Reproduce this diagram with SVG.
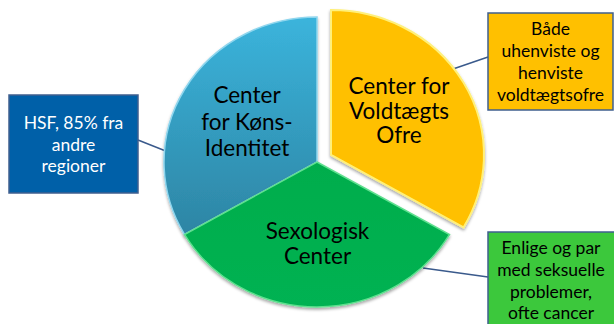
<svg xmlns="http://www.w3.org/2000/svg" width="614" height="324" viewBox="0 0 614 324">
  <style>
    .lbl { font-family: Lato, "Liberation Sans", sans-serif; font-size: 22.5px; fill: #000; text-anchor: middle; }
    .box { stroke: #3f5f8f; stroke-width: 1.5; }
    .btxt { font-family: Lato, "Liberation Sans", sans-serif; font-size: 17.5px; text-anchor: middle; }
    .conn { stroke: #3a5a8c; stroke-width: 1.5; fill: none; }
  </style>
  <defs>
    <linearGradient id="gBlue" x1="0" y1="0" x2="0" y2="1">
      <stop offset="0" stop-color="#3bb4dc"/>
      <stop offset="1" stop-color="#2d85a4"/>
    </linearGradient>
    <linearGradient id="gGreen" x1="0" y1="0" x2="0" y2="1">
      <stop offset="0" stop-color="#00ad4c"/>
      <stop offset="1" stop-color="#00b252"/>
    </linearGradient>
    <filter id="sh" x="-10%" y="-10%" width="120%" height="125%">
      <feDropShadow dx="0" dy="2" stdDeviation="1.5" flood-color="#000" flood-opacity="0.35"/>
    </filter>
  </defs>

  <g id="connectors">
    <line class="conn" x1="138" y1="140" x2="211" y2="169"/>
    <line class="conn" x1="453" y1="69" x2="488" y2="57"/>
    <line class="conn" x1="423" y1="268" x2="488" y2="277"/>
  </g>

  <g id="wedge-blue">
    <path d="M317,162 L184.5,234.5 A153,145 0 0 1 317,17 Z" fill="url(#gBlue)" stroke="#8fd6ee" stroke-width="1.5" filter="url(#sh)"/>
    <text class="lbl" x="247" y="103">Center</text>
    <text class="lbl" x="247" y="129.5">for Køns-</text>
    <text class="lbl" x="247" y="156">Identitet</text>
  </g>

  <g id="wedge-green">
    <path d="M317,162 L449.5,234.5 A153,145 0 0 1 184.5,234.5 Z" fill="url(#gGreen)" stroke="#5fe08f" stroke-width="1.5" filter="url(#sh)"/>
    <text class="lbl" x="317.5" y="238.5">Sexologisk</text>
    <text class="lbl" x="317.5" y="264">Center</text>
  </g>

  <g id="wedge-yellow">
    <path d="M331,155 L331,10 A153,145 0 0 1 463.5,227.5 Z" fill="#ffc000" stroke="#fff07a" stroke-width="2" filter="url(#sh)"/>
    <text class="lbl" x="399" y="94">Center for</text>
    <text class="lbl" x="399" y="118.5">Voldtægts</text>
    <text class="lbl" x="399" y="143">Ofre</text>
  </g>

  <g id="box-hsf">
    <rect class="box" x="9" y="95" width="129" height="98" fill="#0060a8"/>
    <text class="btxt" fill="#fff" x="73.5" y="129">HSF, 85% fra</text>
    <text class="btxt" fill="#fff" x="73.5" y="150.5">andre</text>
    <text class="btxt" fill="#fff" x="73.5" y="172">regioner</text>
  </g>

  <g id="box-voldtaegt">
    <rect class="box" x="488" y="13" width="125" height="97" fill="#ffc000"/>
    <text class="btxt" fill="#000" x="550.5" y="35">Både</text>
    <text class="btxt" fill="#000" x="550.5" y="57">uhenviste og</text>
    <text class="btxt" fill="#000" x="550.5" y="79">henviste</text>
    <text class="btxt" fill="#000" x="550.5" y="100.5">voldtægtsofre</text>
  </g>

  <g id="box-enlige">
    <rect class="box" x="488" y="232" width="127" height="95" fill="#3cc83c"/>
    <text class="btxt" fill="#000" x="551" y="254">Enlige og par</text>
    <text class="btxt" fill="#000" x="551" y="276">med seksuelle</text>
    <text class="btxt" fill="#000" x="551" y="297.5">problemer,</text>
    <text class="btxt" fill="#000" x="551" y="319">ofte cancer</text>
  </g>
</svg>
